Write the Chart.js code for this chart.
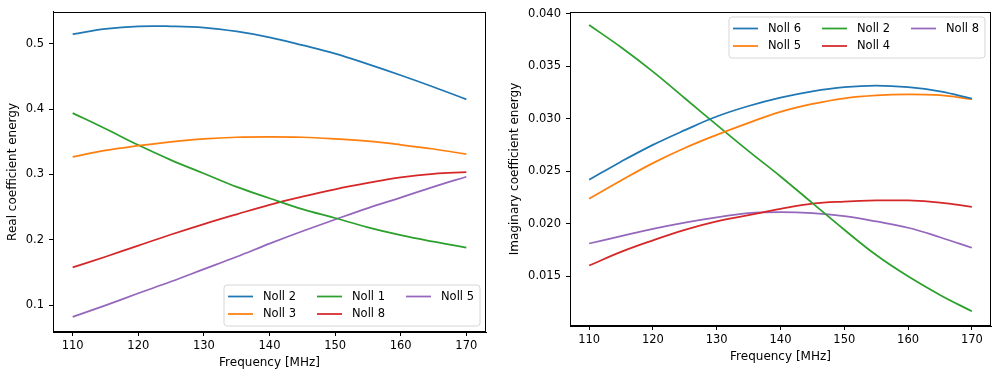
<!DOCTYPE html>
<html><head><meta charset="utf-8">
<script src="https://cdn.jsdelivr.net/npm/chart.js@4/dist/chart.umd.min.js"></script>
<style>
html,body{margin:0;padding:0;background:#fff;overflow:hidden;}
#wrap{position:relative;width:1001px;height:378px;}
canvas{position:absolute;top:0;}
</style></head>
<body><div id="wrap">
<canvas id="c1" width="500" height="378" style="left:0"></canvas>
<canvas id="c2" width="501" height="378" style="left:500px"></canvas>
</div>
<script>
const freq = [110,115,120,125,130,135,140,145,150,155,160,165,170];
const xTicks = [110,120,130,140,150,160,170];
const xTickLabels = ['110','120','130','140','150','160','170'];

// Real coefficient energy (left)
const realLabels = ['Noll 2','Noll 3','Noll 1','Noll 8','Noll 5'];
const realNoll2 = [0.515,0.523,0.527,0.527,0.525,0.519,0.510,0.498,0.485,0.469,0.452,0.434,0.415];
const realNoll3 = [0.327,0.337,0.344,0.350,0.3545,0.357,0.3576,0.357,0.3545,0.351,0.3455,0.339,0.331];
const realNoll1 = [0.394,0.370,0.345,0.322,0.3015,0.281,0.2636,0.247,0.2333,0.219,0.207,0.197,0.188];
const realNoll8 = [0.1576,0.174,0.191,0.208,0.224,0.239,0.2535,0.266,0.2773,0.287,0.2955,0.301,0.3035];
const realNoll5 = [0.0818,0.0995,0.118,0.136,0.155,0.174,0.194,0.213,0.231,0.2485,0.2646,0.281,0.2965];
const realYTicks = [0.1,0.2,0.3,0.4,0.5];
const realYTickLabels = ['0.1','0.2','0.3','0.4','0.5'];

// Imaginary coefficient energy (right)
const imagLabels = ['Noll 6','Noll 5','Noll 2','Noll 4','Noll 8'];
const imagNoll6 = [0.02417,0.0259,0.0275,0.0289,0.0302,0.0312,0.0320,0.0326,0.0330,0.03315,0.0330,0.0326,0.0319];
const imagNoll5 = [0.02236,0.0241,0.02576,0.0272,0.02845,0.0296,0.03065,0.0314,0.03194,0.03222,0.03232,0.03223,0.03185];
const imagNoll2 = [0.03892,0.0368,0.03448,0.03194,0.0294,0.0269,0.02449,0.02195,0.01941,0.0170,0.01497,0.0132,0.01164];
const imagNoll4 = [0.0160,0.0173,0.0184,0.0194,0.0202,0.0208,0.0214,0.0219,0.0221,0.0222,0.0222,0.0220,0.0216];
const imagNoll8 = [0.0181,0.0188,0.0195,0.0201,0.0206,0.0210,0.0211,0.0210,0.0207,0.0202,0.0196,0.0187,0.0177];
const imagYTicks = [0.015,0.020,0.025,0.030,0.035,0.040];
const imagYTickLabels = ['0.015','0.020','0.025','0.030','0.035','0.040'];

const colors = ['#1f77b4','#ff7f0e','#2ca02c','#d62728','#9467bd'];
const FONT = '"DejaVu Sans", sans-serif';
const FS = 11.5;
const FT = 12;

function ds(labels, series){
  return series.map((s,i)=>({
    label: labels[i],
    data: freq.map((f,j)=>({x:f,y:s[j]})),
    borderColor: colors[i], backgroundColor: colors[i],
    borderWidth: 1.75, pointRadius: 0, fill:false,
    tension: 0.4
  }));
}

const framePlugin = {
  id:'frame',
  afterDatasetsDraw(chart){
    const {ctx, chartArea:a} = chart;
    ctx.save();
    ctx.strokeStyle='#000'; ctx.lineWidth=1;
    ctx.strokeRect(Math.round(a.left)+0.5, Math.round(a.top)+0.5, Math.round(a.right-a.left)-1, Math.round(a.bottom-a.top)-1);
    ctx.restore();
  }
};

function legendPlugin(where){
  return {
    id:'mplLegend',
    afterDraw(chart){
      const {ctx, chartArea:a} = chart;
      const items = chart.data.datasets;
      ctx.save();
      ctx.font = FS + 'px ' + FONT;
      const handle = 25, textPad = 10, colSpace = 21, pad = 4;
      const ncol = 3, nrow = 2;
      const colW = [];
      for(let c=0;c<ncol;c++){
        let w=0;
        for(let r=0;r<nrow;r++){const i=c*nrow+r; if(i<items.length) w=Math.max(w, ctx.measureText(items[i].label).width);}
        colW.push(handle+textPad+w);
      }
      const W = pad*2 + colW.reduce((s,v)=>s+v,0) + colSpace*(ncol-1) + 2;
      const H = 41;
      const bx = a.right - 6 - W;
      const by = where==='bottom' ? a.bottom - 6 - H : a.top + 5;
      const rr=3;
      ctx.beginPath();
      ctx.moveTo(bx+rr,by); ctx.lineTo(bx+W-rr,by); ctx.quadraticCurveTo(bx+W,by,bx+W,by+rr);
      ctx.lineTo(bx+W,by+H-rr); ctx.quadraticCurveTo(bx+W,by+H,bx+W-rr,by+H);
      ctx.lineTo(bx+rr,by+H); ctx.quadraticCurveTo(bx,by+H,bx,by+H-rr);
      ctx.lineTo(bx,by+rr); ctx.quadraticCurveTo(bx,by,bx+rr,by); ctx.closePath();
      ctx.fillStyle='rgba(255,255,255,0.8)'; ctx.fill();
      ctx.strokeStyle='#d6d6d6'; ctx.lineWidth=1; ctx.stroke();
      let cx = bx + pad;
      for(let c=0;c<ncol;c++){
        for(let r=0;r<nrow;r++){
          const i=c*nrow+r; if(i>=items.length) continue;
          const y = by + 11.5 + r*17.5;
          ctx.strokeStyle = items[i].borderColor; ctx.lineWidth=1.75;
          ctx.beginPath(); ctx.moveTo(cx,y); ctx.lineTo(cx+handle,y); ctx.stroke();
          ctx.fillStyle='#000'; ctx.textBaseline='middle'; ctx.textAlign='left';
          ctx.fillText(items[i].label, cx+handle+textPad, y+0.5);
        }
        cx += colW[c] + colSpace;
      }
      ctx.restore();
    }
  };
}

function makeChart(id, labels, series, yMin, yMax, yTicks, yTickLabels, yTitle, geom, legendPos){
  return new Chart(document.getElementById(id), {
    type:'line',
    data:{ datasets: ds(labels, series) },
    options:{
      responsive:false, animation:false, devicePixelRatio:1,
      layout:{padding:{left:0, top:geom.top, right:geom.right, bottom:0}},
      plugins:{legend:{display:false}, tooltip:{enabled:false}},
      scales:{
        x:{
          type:'linear', min:107, max:173,
          afterBuildTicks(s){ s.ticks = xTicks.map(v=>({value:v})); },
          afterFit(s){ s.height = geom.xh; },
          ticks:{ callback:(v,i)=>xTickLabels[i], color:'#000', padding:3, maxRotation:0, autoSkip:false,
                  font:{family:FONT, size:FS} },
          grid:{ display:true, drawOnChartArea:false, drawTicks:true, tickLength:4, tickColor:'#000', tickWidth:1 },
          border:{ display:true, color:'#000' },
          title:{ display:true, text:'Frequency [MHz]', color:'#000', font:{family:FONT, size:FT},
                  padding:{top:0, bottom:geom.xtPad} }
        },
        y:{
          type:'linear', min:yMin, max:yMax,
          afterBuildTicks(s){ s.ticks = yTicks.map(v=>({value:v})); },
          afterFit(s){ s.width = geom.yw; },
          ticks:{ callback:(v,i)=>yTickLabels[i], color:'#000', padding:5, autoSkip:false,
                  font:{family:FONT, size:FS} },
          grid:{ display:true, drawOnChartArea:false, drawTicks:true, tickLength:4, tickColor:'#000', tickWidth:1 },
          border:{ display:true, color:'#000' },
          title:{ display:true, text:yTitle, color:'#000', font:{family:FONT, size:FT},
                  padding:{top:geom.ytPad, bottom:0} }
        }
      }
    },
    plugins:[framePlugin, legendPlugin(legendPos)]
  });
}

makeChart('c1', realLabels, [realNoll2,realNoll3,realNoll1,realNoll8,realNoll5],
  0.0587, 0.549, realYTicks, realYTickLabels, 'Real coefficient energy',
  {top:8, right:14, xh:46, yw:53, xtPad:7.7, ytPad:6.1}, 'bottom');

makeChart('c2', imagLabels, [imagNoll6,imagNoll5,imagNoll2,imagNoll4,imagNoll8],
  0.01024, 0.04016, imagYTicks, imagYTickLabels, 'Imaginary coefficient energy',
  {top:12, right:10, xh:52, yw:70, xtPad:13.7, ytPad:7.7}, 'top');
</script>
</body></html>
